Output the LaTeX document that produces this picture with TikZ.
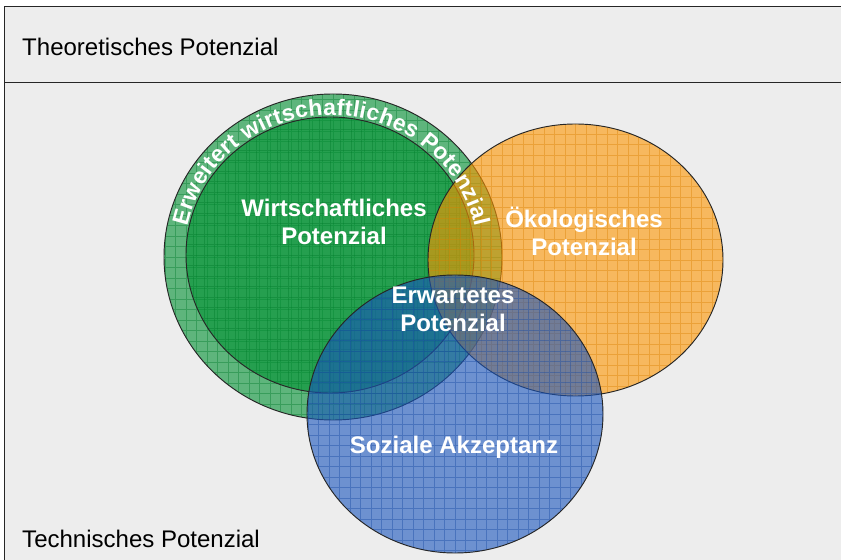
\documentclass[tikz,border=0pt]{standalone}
\usepackage{fontspec}
\setmainfont{Liberation Sans}
\usetikzlibrary{shapes.geometric,decorations.text}

\definecolor{hintergrund}{HTML}{EDEDED}
\definecolor{gruen}{RGB}{0,145,50}
\definecolor{orangeton}{RGB}{255,150,0}
\definecolor{blauton}{RGB}{25,85,190}

\begin{document}
\begin{tikzpicture}[
    x=0.03cm, y=0.03cm,
    kreis/.style={ellipse, inner sep=0pt, draw=black!85, line width=0.8pt,
        fill=#1, fill opacity=0.6,
        path picture={\draw[gitter=#1] (path picture bounding box.south west)
            grid[step=0.315cm] (path picture bounding box.north east);}},
    gitter/.style={draw=#1!85!black, line width=0.5pt, draw opacity=0.4},
    potlabel/.style={text=white, font=\bfseries\fontsize{20.5}{24}\selectfont,
        align=center, inner sep=0pt},
    rahmenlabel/.style={font=\fontsize{20.5}{24}\selectfont, anchor=base west,
        inner sep=0pt}
]
    \useasboundingbox (0,0) rectangle (841,559);

    % 1. Frame with the two levels
    \draw[line width=0.8pt, draw=black!85, fill=hintergrund] (4,-20) rectangle (870,553);
    \draw[line width=0.8pt, draw=black!85] (4,477) -- (870,477);
    \node[rahmenlabel] (theo) at (22,503) {Theoretisches Potenzial};
    \node[rahmenlabel] (tech) at (22,12) {Technisches Potenzial};

    % 2. The circles
    \node[kreis=gruen, minimum width=338*0.03cm, minimum height=326*0.03cm]
        (erwWirt) at (333,302) {};
    \node[kreis=gruen, minimum width=288*0.03cm, minimum height=276*0.03cm]
        (wirt) at (330,304) {};
    \node[kreis=orangeton, minimum width=295*0.03cm, minimum height=272*0.03cm]
        (oeko) at (575.5,299) {};
    \node[kreis=blauton, minimum width=296*0.03cm, minimum height=278*0.03cm]
        (sozial) at (455,145) {};

    % 3. Curved label in the outer ring
    \path[decorate, decoration={text along path, text color=white,
        text={|\bfseries\fontsize{19.5}{21}\selectfont|Erweitert wirtschaftliches Potenzial},
        text align=fit to path}]
        (331,303) ++(168:147 and 141)
        arc[start angle=168, end angle=12, x radius=147, y radius=141];

    % 4. Labels
    \node[potlabel] (lWirt) at (334,337.5) {Wirtschaftliches\\Potenzial};
    \node[potlabel] (lOeko) at (584,327.5) {Ökologisches\\Potenzial};
    \node[potlabel] (lErw) at (453,250) {Erwartetes\\Potenzial};
    \node[potlabel] (lSozial) at (454,112) {Soziale Akzeptanz};

\end{tikzpicture}
\end{document}
